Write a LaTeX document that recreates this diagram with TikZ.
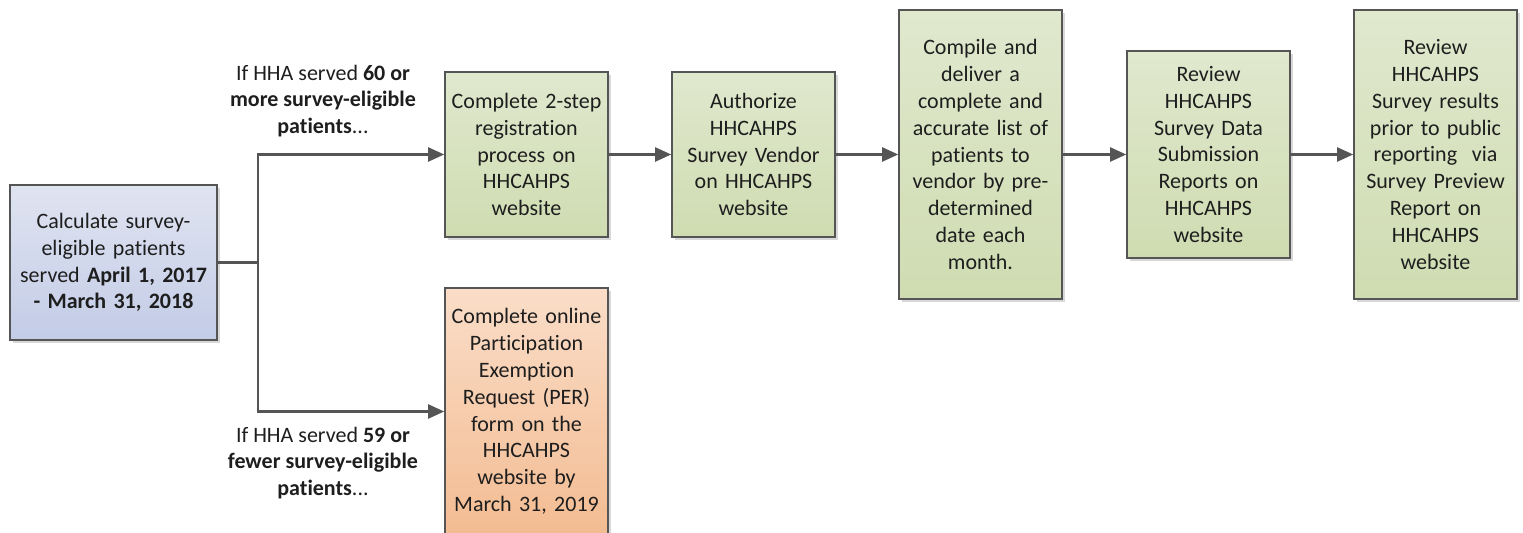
\documentclass[tikz,border=0pt]{standalone}
\usepackage{fontspec}
\setmainfont{Carlito}[Ligatures=NoCommon]
\usetikzlibrary{arrows.meta, shadows}
\definecolor{greentop}{HTML}{E0E8CE}
\definecolor{greenbot}{HTML}{CFDCB1}
\definecolor{bluetop}{HTML}{E0E4F1}
\definecolor{bluebot}{HTML}{C3CCE7}
\definecolor{orangetop}{HTML}{FADDC8}
\definecolor{orangebot}{HTML}{F3BC92}
\definecolor{edgegray}{HTML}{555555}
\definecolor{inkgray}{HTML}{1E1E1E}

\begin{document}
\begin{tikzpicture}[x=0.5pt, y=-0.5pt,
	box/.style={draw=edgegray, line width=0.8pt, align=center, text=inkgray,
		inner sep=2pt, font=\fontsize{11}{13.4}\selectfont,
		drop shadow={shadow xshift=1.5pt, shadow yshift=-1.5pt, fill=black!30, opacity=0.5}},
	stepbox/.style={box, top color=greentop, bottom color=greenbot,
		minimum width=81.5pt, text width=76pt},
	startbox/.style={box, top color=bluetop, bottom color=bluebot,
		minimum width=103.5pt, minimum height=77.5pt, text width=98pt},
	exemptbox/.style={box, top color=orangetop, bottom color=orangebot,
		minimum width=81.5pt, minimum height=123.5pt, text width=76pt},
	note/.style={align=center, text=inkgray, font=\fontsize{11}{13.4}\selectfont},
	flow/.style={draw=edgegray, line width=1.1pt, -{Triangle[length=8pt, width=7pt]}}]
	\useasboundingbox (0,0) rectangle (1523,533);

	\node[startbox] (calc) at (113.5,262.5)
		{Calculate survey-\\eligible patients\\served \textbf{April 1, 2017}\\\textbf{- March 31, 2018}};

	\node[stepbox, minimum height=82.5pt] (reg) at (526.5,154.5)
		{Complete 2-step\\registration\\process on\\HHCAHPS\\website};
	\node[stepbox, minimum height=82.5pt] (auth) at (753.5,154.5)
		{Authorize\\HHCAHPS\\Survey Vendor\\on HHCAHPS\\website};
	\node[stepbox, minimum height=144.5pt] (list) at (980.5,154.5)
		{Compile and\\deliver a\\complete and\\accurate list of\\patients to\\vendor by pre-\\determined\\date each\\month.};
	\node[stepbox, minimum height=103.5pt] (dsr) at (1208.5,154.5)
		{Review\\HHCAHPS\\Survey Data\\Submission\\Reports on\\HHCAHPS\\website};
	\node[stepbox, minimum height=144.5pt] (spr) at (1435.5,154.5)
		{Review\\HHCAHPS\\Survey results\\prior to public\\reporting~ via\\Survey Preview\\Report on\\HHCAHPS\\website};

	\node[exemptbox] (per) at (526.5,411.5)
		{Complete online\\Participation\\Exemption\\Request (PER)\\form on the\\HHCAHPS\\website by\\March 31, 2019};

	\node[note] (more) at (323,101)
		{If HHA served \textbf{60 or}\\\textbf{more survey-eligible}\\\textbf{patients}...};
	\node[note] (fewer) at (323,463)
		{If HHA served \textbf{59 or}\\\textbf{fewer survey-eligible}\\\textbf{patients}...};

%	branch from the start box
	\draw[edgegray, line width=1.1pt] (calc.east) -- (258,262.5) coordinate (split);
	\draw[flow] (split) |- (reg.west);
	\draw[flow] (split) |- (per.west);

	\draw[flow] (reg) -- (auth);
	\draw[flow] (auth) -- (list);
	\draw[flow] (list) -- (dsr);
	\draw[flow] (dsr) -- (spr);
\end{tikzpicture}
\end{document}
